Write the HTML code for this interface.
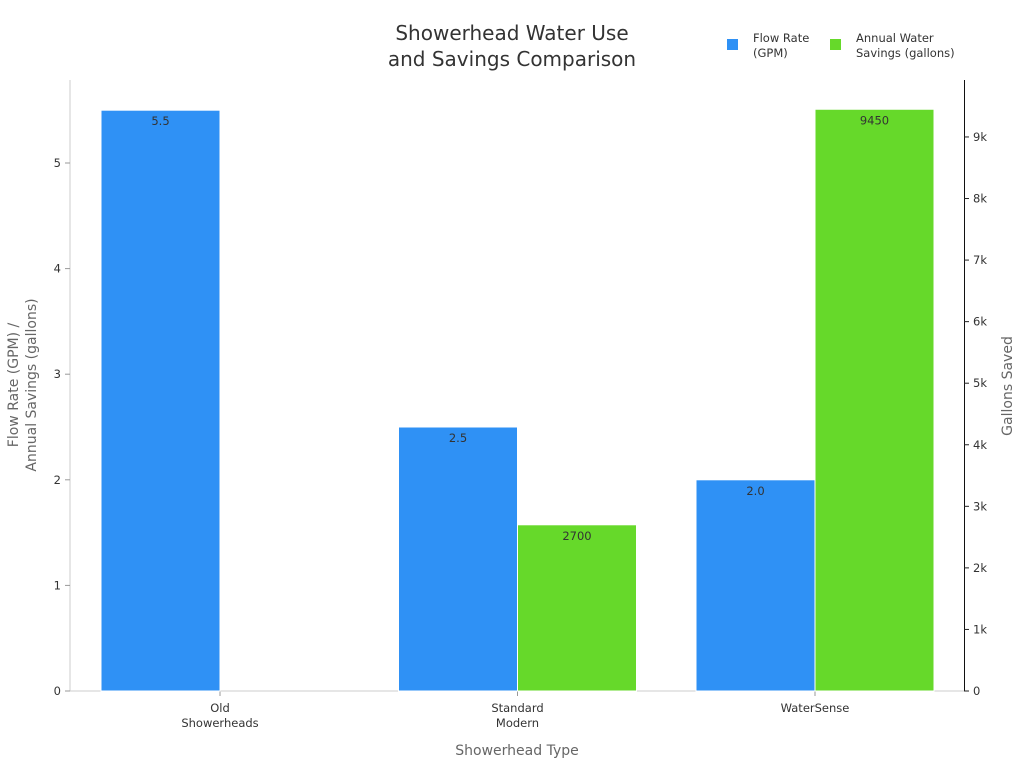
<!DOCTYPE html>
<html><head><meta charset="utf-8"><style>
body{margin:0;background:#fff;}
svg{font-family:"DejaVu Sans","Liberation Sans",sans-serif;}
</style></head><body>
<svg id="chart" width="1024" height="768">
<text x="512" y="40" text-anchor="middle" font-size="20" fill="#333">Showerhead Water Use</text>
<text x="512" y="66" text-anchor="middle" font-size="20" fill="#333">and Savings Comparison</text>
<g>
<rect x="727" y="39" width="11" height="11" fill="#2f91f5"/>
<text x="753" y="42" font-size="11.5" fill="#333">Flow Rate</text>
<text x="753" y="57" font-size="11.5" fill="#333">(GPM)</text>
<rect x="830" y="39" width="11" height="11" fill="#66d92a"/>
<text x="856" y="42" font-size="11.5" fill="#333">Annual Water</text>
<text x="856" y="57" font-size="11.5" fill="#333">Savings (gallons)</text>
</g>
<g id="plot"></g>
<text transform="translate(18,385) rotate(-90)" text-anchor="middle" font-size="14" fill="#666"><tspan x="0" dy="0">Flow Rate (GPM) /</tspan><tspan x="0" dy="18">Annual Savings (gallons)</tspan></text>
<text transform="translate(1012,386) rotate(-90)" text-anchor="middle" font-size="14" fill="#666">Gallons Saved</text>
<text x="517" y="755" text-anchor="middle" font-size="14" fill="#666">Showerhead Type</text>
</svg>
<script>
const categories=[["Old","Showerheads"],["Standard","Modern"],["WaterSense"]];
const flowRate=[5.5,2.5,2.0];
const savings=[null,2700,9450];
const leftTicks=[0,1,2,3,4,5];
const rightTicks=[0,1000,2000,3000,4000,5000,6000,7000,8000,9000];
const rightTickLabels=["0","1k","2k","3k","4k","5k","6k","7k","8k","9k"];
const NS="http://www.w3.org/2000/svg";
const g=document.getElementById('plot');
const x0=70,x1=964,yb=691,yt=80;
const yL=v=>yb-v*105.6;
const yR=v=>yb-v*0.06156;
const band=297.5,first=220,bw=119;
const xC=i=>first+i*band;
function mk(t,a){const e=document.createElementNS(NS,t);for(const k in a)e.setAttribute(k,a[k]);g.appendChild(e);return e;}
let e;
e=mk('line',{x1:x0,y1:yt,x2:x0,y2:yb,stroke:'#ccc'});


e=mk('line',{x1:x0,y1:yb,x2:x1,y2:yb,stroke:'#ccc'});


e=mk('line',{x1:x1+0.5,y1:yt,x2:x1+0.5,y2:yb,stroke:'#111'});


leftTicks.forEach(v=>{
 e=mk('line',{x1:x0-5,y1:yL(v),x2:x0,y2:yL(v),stroke:'#999'});
 
 
 e=mk('text',{x:x0-9,y:yL(v)+4,'text-anchor':'end','font-size':11.5,fill:'#333'});
 e.textContent=v;
 
 
});
rightTicks.forEach((v,i)=>{
 e=mk('line',{x1:x1,y1:yR(v),x2:x1+5,y2:yR(v),stroke:'#222'});
 
 
 e=mk('text',{x:x1+9,y:yR(v)+4,'font-size':11.5,fill:'#333'});
 e.textContent=rightTickLabels[i];
 
 
});
categories.forEach((c,i)=>{
 e=mk('line',{x1:xC(i),y1:yb,x2:xC(i),y2:yb+5,stroke:'#999'});
 
 
 c.forEach((s,j)=>{
  e=mk('text',{x:xC(i),y:yb+21+j*15,'text-anchor':'middle','font-size':11.5,fill:'#333'});
  e.textContent=s;
  
  
 });
 const fv=flowRate[i];
 if(fv!=null){
  e=mk('rect',{x:xC(i)-bw,y:yL(fv),width:bw,height:yb-yL(fv),fill:'#2f91f5',stroke:'#fff','stroke-width':1});
  
  
  e=mk('text',{x:xC(i)-bw/2,y:yL(fv)+15,'text-anchor':'middle','font-size':11.5,fill:'#333'});
  e.textContent=fv.toFixed(1);
  
  
 }
 const sv=savings[i];
 if(sv!=null){
  e=mk('rect',{x:xC(i),y:yR(sv),width:bw,height:yb-yR(sv),fill:'#66d92a',stroke:'#fff','stroke-width':1});
  
  
  e=mk('text',{x:xC(i)+bw/2,y:yR(sv)+15,'text-anchor':'middle','font-size':11.5,fill:'#333'});
  e.textContent=sv;
  
  
 }
});
</script>
</body></html>
